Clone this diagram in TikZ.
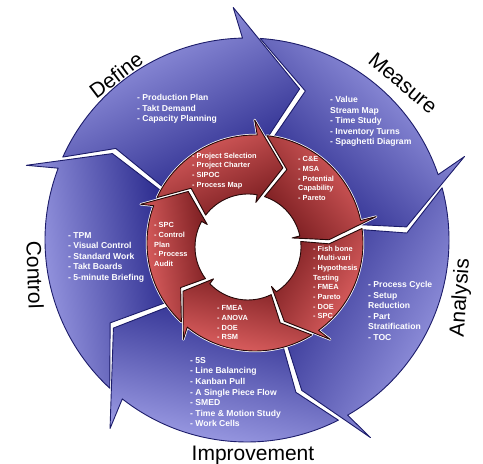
\documentclass[tikz,border=0pt]{standalone}
\usepackage{fontspec}
\setmainfont{Liberation Sans}
\definecolor{bluelight}{HTML}{A6A6EC}
\definecolor{bluedark}{HTML}{26268A}
\definecolor{blueline}{HTML}{1C1C6A}
\definecolor{redlight}{HTML}{E66666}
\definecolor{reddark}{HTML}{7A1D20}
\definecolor{redline}{HTML}{250808}
% map (angle, radius) of a ring with shifting centre
\newcommand\rkmap[3]{%
  \pgfmathsetmacro\rkf{((#3)-\rkRi)/(\rkRo-\rkRi)}%
  \expandafter\pgfmathsetmacro\csname rk#1x\endcsname{\rkcix+\rkf*(\rkcox-(\rkcix))+(#3)*cos(#2)}%
  \expandafter\pgfmathsetmacro\csname rk#1y\endcsname{\rkciy+\rkf*(\rkcoy-(\rkciy))+(#3)*sin(#2)}%
}
% line from point #1 to point #2 meets circle (#3,#4) radius #5 -> angle in #6
\newcommand\rkcross[6]{%
  \pgfmathsetmacro\rkxa{0.01*(\csname rk#1x\endcsname-(#3))}%
  \pgfmathsetmacro\rkya{0.01*(\csname rk#1y\endcsname-(#4))}%
  \pgfmathsetmacro\rkxb{0.01*(\csname rk#2x\endcsname-(#3))}%
  \pgfmathsetmacro\rkyb{0.01*(\csname rk#2y\endcsname-(#4))}%
  \pgfmathsetmacro\rkdx{\rkxb-\rkxa}%
  \pgfmathsetmacro\rkdy{\rkyb-\rkya}%
  \pgfmathsetmacro\rkqa{\rkdx*\rkdx+\rkdy*\rkdy}%
  \pgfmathsetmacro\rkqb{\rkxa*\rkdx+\rkya*\rkdy}%
  \pgfmathsetmacro\rkqc{\rkxa*\rkxa+\rkya*\rkya-0.0001*(#5)*(#5)}%
  \pgfmathsetmacro\rkqt{(-\rkqb-sqrt(max(\rkqb*\rkqb-\rkqa*\rkqc,0)))/\rkqa}%
  \pgfmathsetmacro#6{atan2(\rkya+\rkqt*\rkdy,\rkxa+\rkqt*\rkdx)}%
}
% #1 barb angle, #2 tip angle, #3 tip radius, #4 inner-barb lead,
% #5-#8 the same for the previous arrow, #9 style
\newcommand\ringarrow[9]{%
  \pgfmathsetmacro\rkhOa{#1-(#4)*(\rkRb-\rkRo)/(\rkRb-\rkRbi)}%
  \pgfmathsetmacro\rkhIa{#1-(#4)*(\rkRb-\rkRi)/(\rkRb-\rkRbi)}%
  \rkmap{hO}{\rkhOa}{\rkRo}%
  \rkmap{B}{#1}{\rkRb}%
  \rkmap{T}{#2}{#3}%
  \rkmap{Bi}{#1-(#4)}{\rkRbi}%
  \rkmap{hI}{\rkhIa}{\rkRi}%
  \rkmap{PB}{#5-\rkgap}{\rkRb}%
  \rkmap{PT}{#6-\rkgap}{#7}%
  \rkmap{PBi}{#5-(#8)-\rkgap}{\rkRbi}%
  \rkcross{PB}{PT}{\rkcox}{\rkcoy}{\rkRo}{\rkcOraw}%
  \rkcross{PT}{PBi}{\rkcix}{\rkciy}{\rkRi}{\rkcIraw}%
  \pgfmathsetmacro\rkcOa{\rkhOa+Mod(\rkcOraw-\rkhOa,360)}%
  \pgfmathsetmacro\rkcIa{\rkhIa+Mod(\rkcIraw-\rkhIa,360)}%
  \pgfmathsetmacro\rkcOx{\rkcox+\rkRo*cos(\rkcOa)}%
  \pgfmathsetmacro\rkcOy{\rkcoy+\rkRo*sin(\rkcOa)}%
  \path[#9] (\rkhOx,\rkhOy) -- (\rkBx,\rkBy) -- (\rkTx,\rkTy) -- (\rkBix,\rkBiy) -- (\rkhIx,\rkhIy)
    arc[start angle=\rkhIa, end angle=\rkcIa, radius=\rkRi]
    -- (\rkPTx,\rkPTy) -- (\rkcOx,\rkcOy)
    arc[start angle=\rkcOa, end angle=\rkhOa, radius=\rkRo] -- cycle;
}
\newcommand\redring[1]{%
  \ringarrow{91}{68}{83}{12}{162}{140}{83}{12}{#1,shading angle=25}%
  \ringarrow{12}{4}{78}{0}{91}{68}{83}{12}{#1,shading angle=-50}%
  \ringarrow{-53}{-67}{83}{5}{12}{4}{78}{0}{#1,shading angle=-121}%
  \ringarrow{-127}{-146}{83}{10}{-53}{-67}{83}{5}{#1,shading angle=168}%
  \ringarrow{162}{140}{83}{12}{-127}{-146}{83}{10}{#1,shading angle=97}%
}
\begin{document}
\begin{tikzpicture}[x=1pt,y=1pt,line join=round,
  bluearr/.style={left color=bluelight,right color=bluedark,draw=blueline,line width=0.9pt},
  redarr/.style={left color=redlight,right color=reddark,draw=redline,line width=0.9pt},
  halo/.style={draw=white,fill=white,line width=2.4pt},
  btxt/.style={text=white,font=\bfseries\fontsize{8.6}{10.6}\selectfont,align=left,anchor=north west,inner sep=0pt},
  rtxt/.style={text=white,font=\bfseries\fontsize{7.4}{9.7}\selectfont,align=left,anchor=north west,inner sep=0pt},
  lbl/.style={text=black,font=\fontsize{21}{24}\selectfont,inner sep=0pt}]
\useasboundingbox (-247,-224) rectangle (236,240);
% ---------- outer blue ring ----------
\def\rkRo{202}\def\rkRi{96}\def\rkRb{233}\def\rkRbi{87}%
\def\rkgap{2.2}\def\rkcox{0}\def\rkcoy{0}\def\rkcix{0}\def\rkciy{0}%
\ringarrow{93.4}{70.8}{160}{10}{161.3}{147.3}{160}{10}{bluearr,shading angle=27}
\ringarrow{21}{4.7}{160}{10}{93.4}{70.8}{160}{10}{bluearr,shading angle=-43}
\ringarrow{-58}{-70}{160}{10}{21}{4.7}{160}{10}{bluearr,shading angle=-118}
\ringarrow{-126}{-146.6}{160}{10}{-58}{-70}{160}{10}{bluearr,shading angle=168}
\ringarrow{161.3}{147.3}{160}{10}{-126}{-146.6}{160}{10}{bluearr,shading angle=98}
% ---------- inner red ring ----------
\def\rkRo{108}\def\rkRi{53}\def\rkRb{122}\def\rkRbi{46}%
\def\rkgap{3}\def\rkcox{8}\def\rkcoy{-3}\def\rkcix{1}\def\rkciy{-7}%
\fill[white] (8,-3) circle[radius=107];
\redring{halo}
\redring{redarr}
% ---------- texts ----------
\node[btxt] (tdef) at (-110,146) {- Production Plan\\- Takt Demand\\- Capacity Planning};
\node[btxt] (tmea) at (83,144) {- Value\\Stream Map\\- Time Study\\- Inventory Turns\\- Spaghetti Diagram};
\node[btxt] (tana) at (121,-41) {- Process Cycle\\- Setup\\Reduction\\- Part\\Stratification\\- TOC};
\node[btxt] (tcon) at (-179,8) {- TPM\\- Visual Control\\- Standard Work\\- Takt Boards\\- 5-minute Briefing};
\node[btxt] (timp) at (-57,-117) {- 5S\\- Line Balancing\\- Kanban Pull\\- A Single Piece Flow\\- SMED\\- Time \& Motion Study\\- Work Cells};
\node[rtxt] (rdef) at (-55,87.5) {- Project Selection\\- Project Charter\\- SIPOC\\- Process Map};
\node[rtxt] (rmea) at (51,83.5) {- C\&E\\- MSA\\- Potential\\Capability\\- Pareto};
\node[rtxt] (rana) at (66,-5.5) {- Fish bone\\- Multi-vari\\- Hypothesis\\Testing\\- FMEA\\- Pareto\\- DOE\\- SPC};
\node[rtxt] (rcon) at (-93,17.5) {- SPC\\- Control\\Plan\\- Process\\Audit};
\node[rtxt] (rimp) at (-30,-65.5) {- FMEA\\- ANOVA\\- DOE\\- RSM};
\node[lbl,rotate=37] (ldef) at (-131,165) {Define};
\node[lbl,rotate=-40] (lmea) at (156,157) {Measure};
\node[lbl,rotate=86] (lana) at (214,-58) {Analysis};
\node[lbl,rotate=-88] (lcon) at (-212,-35) {Control};
\node[lbl,anchor=base] (limp) at (6,-220) {Improvement};
\end{tikzpicture}
\end{document}
